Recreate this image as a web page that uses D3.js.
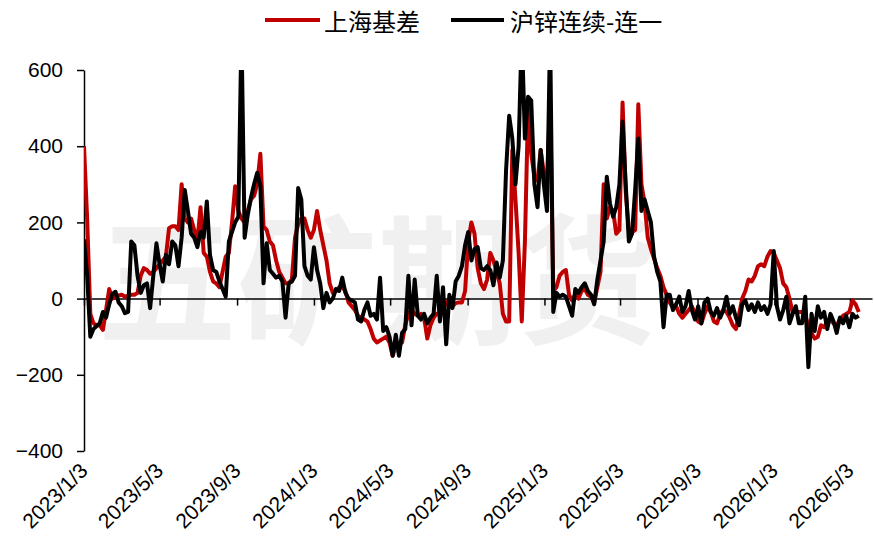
<!DOCTYPE html>
<html>
<head>
<meta charset="utf-8">
<script src="https://cdn.jsdelivr.net/npm/d3@7/dist/d3.min.js"></script>
<style>
  html, body { margin: 0; padding: 0; background: #fff; }
  svg { display: block; }
</style>
</head>
<body>
<svg id="chart" width="874" height="546"></svg>
<script>
// Zinc basis series, sampled every 5 calendar days from 2023/1/3
const startDate = "2023-01-03";
const stepDays = 5;

// 上海基差
const shBasis = [
  400,210,-40,-65,-70,-70,-82,-30,25,0,
  5,8,10,5,8,10,10,15,60,80,
  75,65,70,80,90,100,110,185,190,190,
  180,300,210,200,210,180,150,240,120,110,
  70,45,40,30,70,110,120,200,295,230,
  210,200,230,260,270,300,380,190,180,150,
  140,100,70,55,40,40,50,160,195,210,
  210,180,160,180,230,180,140,100,40,15,
  20,30,30,20,-10,-20,-30,-45,-50,-55,
  -60,-80,-105,-115,-110,-105,-100,-115,-150,-125,
  -120,-115,-70,-40,-30,-40,-45,-40,-50,-105,
  -70,-50,-40,-40,-30,-10,-5,-20,-12,-10,
  -10,20,150,200,170,80,40,25,50,120,
  100,70,40,-40,-60,-60,390,260,120,-60,
  150,500,380,320,310,390,330,300,520,20,
  30,60,70,75,10,-5,10,0,20,25,
  10,5,-10,30,70,300,210,240,230,170,
  180,515,280,180,175,180,510,300,250,160,
  130,105,80,60,30,10,-10,-25,-20,-40,
  -50,-40,-30,-20,-40,-60,-65,-40,-20,-35,
  -60,-65,-40,-30,-35,-50,-70,-80,-40,0,
  20,50,45,60,85,90,85,110,125,120,
  100,80,40,30,0,-35,-35,-35,-35,-45,
  -70,-90,-105,-100,-70,-75,-60,-55,-65,-70,
  -55,-45,-40,-35,-5,-15,-35
];

// 沪锌连续-连一
const spread = [
  155,60,-100,-80,-72,-65,-35,-50,-15,12,
  18,-10,-20,-38,-35,150,140,60,15,35,
  40,-25,60,145,90,45,115,90,150,140,
  85,160,285,230,170,160,135,175,160,255,
  115,75,70,45,25,5,150,175,200,215,
  700,160,220,265,300,330,295,40,145,75,
  65,55,60,45,-50,40,45,60,290,260,
  85,60,50,135,75,40,-25,15,-10,0,
  25,20,55,15,0,-5,-10,-55,-60,-30,
  -10,-45,-40,-55,55,-85,-75,-100,-150,-95,
  -150,-90,-80,60,-70,50,-45,-55,-40,-65,
  -50,-40,60,-60,30,-120,10,-25,45,60,
  85,140,175,100,130,135,80,75,85,75,
  35,95,55,100,335,480,420,300,400,700,
  420,530,520,300,240,390,300,230,700,-35,
  15,5,10,5,-20,-45,25,15,30,40,
  20,10,-15,50,100,150,320,250,215,240,
  300,465,300,150,170,285,420,230,260,230,
  200,110,70,45,-75,10,10,-30,-15,5,
  -35,-20,20,-30,-55,-20,-65,-10,0,-35,
  -45,-25,-50,-30,5,-40,-20,-50,-70,-15,
  -5,-30,-15,-35,-10,-30,-20,-40,-15,125,
  -20,-55,-30,5,-65,-40,-20,-65,-65,5,
  -180,-40,-85,-20,-50,-35,-80,-40,-60,-90,
  -50,-65,-45,-75,-40,-50,-45
];

const seriesNames = ["上海基差", "沪锌连续-连一"];
const seriesColors = ["#C00000", "#000000"];

const xTickLabels = ["2023/1/3","2023/5/3","2023/9/3","2024/1/3","2024/5/3","2024/9/3",
                     "2025/1/3","2025/5/3","2025/9/3","2026/1/3","2026/5/3"];
const yTicks = [-400, -200, 0, 200, 400, 600];
const xDomain = ["2023-01-03", "2026-06-07"];
const watermark = "五矿期货";

const parseIso = d3.timeParse("%Y-%m-%d");
const parseTick = d3.timeParse("%Y/%-m/%-d");
const t0 = parseIso(startDate);
const dates = shBasis.map((_, i) => d3.timeDay.offset(t0, i * stepDays));

const svg = d3.select("#chart");
const plotLeft = 84, plotRight = 872, plotTop = 70, plotBottom = 451;

const x = d3.scaleTime().domain(xDomain.map(parseIso)).range([plotLeft, plotRight]);
const y = d3.scaleLinear().domain([-400, 600]).range([plotBottom, plotTop]);

// faint background mark
svg.append("text")
  .attr("x", 377).attr("y", 272)
  .attr("text-anchor", "middle")
  .attr("dominant-baseline", "central")
  .attr("font-family", "Noto Sans CJK SC")
  .attr("font-weight", 700)
  .attr("font-size", 140)
  .attr("fill", "#f0f0f0")
  .text(watermark);

svg.append("clipPath").attr("id", "plotClip")
  .append("rect").attr("x", plotLeft).attr("y", plotTop)
  .attr("width", plotRight - plotLeft).attr("height", plotBottom - plotTop);

// y axis
const yAxis = svg.append("g")
  .attr("transform", `translate(${plotLeft},0)`)
  .call(d3.axisLeft(y).tickValues(yTicks).tickSize(7).tickPadding(14).tickSizeOuter(0));
yAxis.select(".domain").attr("stroke", "#000").attr("stroke-width", 1.5);
yAxis.selectAll(".tick line").attr("stroke", "#000").attr("stroke-width", 1.5);
yAxis.selectAll("text")
  .attr("font-family", "Liberation Sans, Arial, sans-serif")
  .attr("font-size", 21).attr("fill", "#000");

// x axis on the zero line, labels at the bottom
const xAxis = svg.append("g")
  .attr("transform", `translate(0,${y(0)})`)
  .call(d3.axisBottom(x).tickValues(xTickLabels.map(parseTick)).tickSize(7).tickSizeOuter(0).tickFormat(""));
xAxis.select(".domain").attr("stroke", "#000").attr("stroke-width", 1.5);
xAxis.selectAll(".tick line").attr("stroke", "#000").attr("stroke-width", 1.5);

svg.append("g").selectAll("text")
  .data(xTickLabels)
  .join("text")
  .attr("transform", d => `translate(${x(parseTick(d)) + 5},472) rotate(-45)`)
  .attr("text-anchor", "end")
  .attr("font-family", "Liberation Sans, Arial, sans-serif")
  .attr("font-size", 21)
  .attr("fill", "#000")
  .text(d => d);

// series lines
const line = d3.line()
  .x((d, i) => x(dates[i]))
  .y(d => y(d));

const plot = svg.append("g").attr("clip-path", "url(#plotClip)");
[shBasis, spread].forEach((vals, k) => {
  plot.append("path")
    .datum(vals)
    .attr("fill", "none")
    .attr("stroke", seriesColors[k])
    .attr("stroke-width", 4)
    .attr("stroke-linejoin", "round")
    .attr("d", line);
});

// legend
const legendItems = [
  { x1: 265, x2: 320, tx: 324 },
  { x1: 451, x2: 504, tx: 510 }
];
const legend = svg.append("g");
legendItems.forEach((it, k) => {
  legend.append("line")
    .attr("x1", it.x1).attr("x2", it.x2).attr("y1", 20).attr("y2", 20)
    .attr("stroke", seriesColors[k]).attr("stroke-width", 4);
  legend.append("text")
    .attr("x", it.tx).attr("y", 20)
    .attr("dominant-baseline", "central")
    .attr("font-family", "Noto Sans CJK SC")
    .attr("font-size", 24)
    .attr("fill", "#000")
    .text(seriesNames[k]);
});
</script>
</body>
</html>
